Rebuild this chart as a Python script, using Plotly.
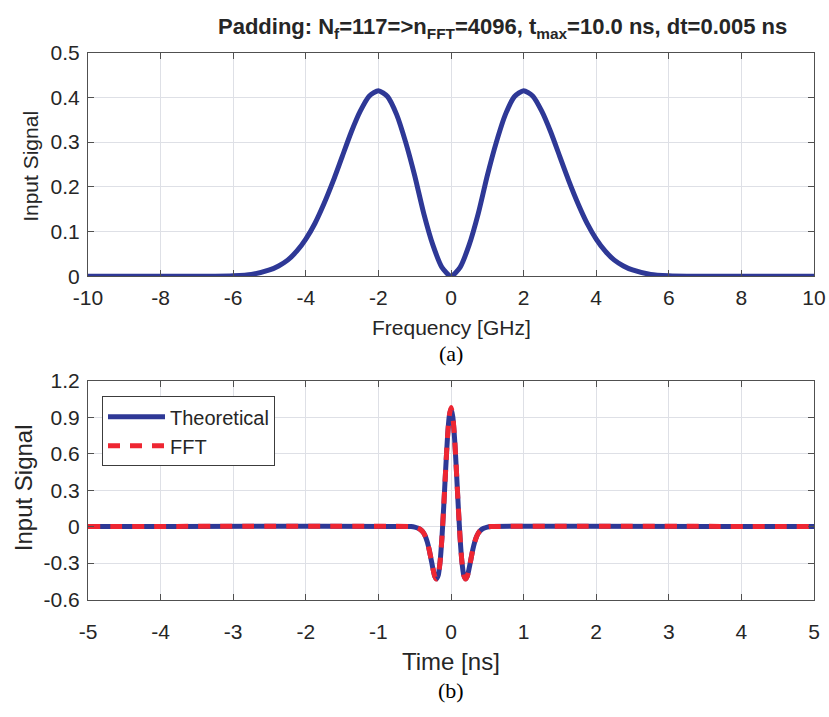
import plotly.graph_objects as go

# ---------------- data ----------------
# (a) spectrum magnitude vs frequency [GHz]
freq_pos = [0, 0.25, 0.5, 0.75, 1.0, 1.25, 1.5, 1.75, 2.0, 2.25, 2.5, 2.75, 3.0,
            3.25, 3.5, 3.75, 4.0, 4.25, 4.5, 4.75, 5.0, 5.5, 6.0, 6.5, 10.0]
spec_pos = [0.0, 0.02, 0.07, 0.14, 0.225, 0.30, 0.362, 0.402, 0.415, 0.403, 0.369,
            0.322, 0.267, 0.212, 0.162, 0.118, 0.083, 0.056, 0.036, 0.023, 0.014,
            0.004, 0.001, 0.0, 0.0]
freq = [-f for f in freq_pos[::-1]] + freq_pos[1:]
spec = spec_pos[::-1] + spec_pos[1:]

# (b) time-domain pulse [ns]
time_pos = [0, 0.025, 0.05, 0.075, 0.1, 0.125, 0.15, 0.175, 0.2, 0.225, 0.25,
            0.275, 0.3, 0.325, 0.35, 0.375, 0.4, 0.45, 0.5, 0.55, 5.0]
theo_pos = [0.97, 0.903, 0.718, 0.454, 0.167, -0.093, -0.287, -0.399, -0.43, -0.406,
            -0.343, -0.266, -0.191, -0.13, -0.085, -0.055, -0.035, -0.014, -0.004, 0.0, 0.0]
fft_pos = [0.98, 0.908, 0.72, 0.455, 0.167, -0.093, -0.287, -0.399, -0.432, -0.407,
           -0.343, -0.266, -0.191, -0.13, -0.085, -0.055, -0.035, -0.014, -0.004, 0.0, 0.0]
time = [-t for t in time_pos[::-1]] + time_pos[1:]
theo = theo_pos[::-1] + theo_pos[1:]
fft = fft_pos[::-1] + fft_pos[1:]

xt_a = [-10, -8, -6, -4, -2, 0, 2, 4, 6, 8, 10]
xt_a_lbl = ["-10", "-8", "-6", "-4", "-2", "0", "2", "4", "6", "8", "10"]
yt_a = [0, 0.1, 0.2, 0.3, 0.4, 0.5]
yt_a_lbl = ["0", "0.1", "0.2", "0.3", "0.4", "0.5"]
xt_b = [-5, -4, -3, -2, -1, 0, 1, 2, 3, 4, 5]
xt_b_lbl = ["-5", "-4", "-3", "-2", "-1", "0", "1", "2", "3", "4", "5"]
yt_b = [-0.6, -0.3, 0, 0.3, 0.6, 0.9, 1.2]
yt_b_lbl = ["-0.6", "-0.3", "0", "0.3", "0.6", "0.9", "1.2"]

BLUE = "rgb(46,56,150)"
RED = "rgb(238,38,50)"
FONT = "Liberation Sans Narrow, Arial Narrow, Liberation Sans, Arial, sans-serif"
SERIF = "Liberation Serif, Times New Roman, serif"
TXT = "#262626"

W, H = 829, 717
L, R = 88, 15


def px(x):
    return (x - L) / (W - L - R)


def py(y):
    return (H - y) / H


fig = go.Figure()
fig.add_trace(go.Scatter(x=freq, y=spec, mode="lines",
                         line=dict(color=BLUE, width=5, shape="spline", smoothing=0.6),
                         showlegend=False, xaxis="x", yaxis="y"))
fig.add_trace(go.Scatter(x=time, y=theo, mode="lines", name="Theoretical",
                         line=dict(color=BLUE, width=5, shape="spline", smoothing=0.6),
                         xaxis="x2", yaxis="y2"))
fig.add_trace(go.Scatter(x=time, y=fft, mode="lines", name="FFT",
                         line=dict(color=RED, width=5, dash="12px,10px", shape="spline", smoothing=0.6),
                         xaxis="x2", yaxis="y2"))

axis_common = dict(showgrid=True, gridcolor="rgb(222,224,230)", gridwidth=1, zeroline=False,
                   showline=True, linecolor="rgb(80,80,80)", linewidth=1, mirror="ticks",
                   ticks="inside", ticklen=6, tickcolor="rgb(80,80,80)")
tickf = dict(size=21, family=FONT, color=TXT)

fig.update_layout(
    width=W, height=H, paper_bgcolor="white", plot_bgcolor="white",
    margin=dict(l=L, r=R, t=0, b=0),
    font=dict(family=FONT, color=TXT),
    xaxis=dict(domain=[0, 1], range=[-10, 10], tickvals=xt_a, ticktext=xt_a_lbl, anchor="y",
               tickfont=tickf, ticklabelstandoff=3, **axis_common),
    yaxis=dict(domain=[py(273), py(42)], range=[0, 0.5], tickvals=yt_a, ticktext=yt_a_lbl, anchor="x",
               tickfont=tickf, ticklabelstandoff=3, **axis_common),
    xaxis2=dict(domain=[0, 1], range=[-5, 5], tickvals=xt_b, ticktext=xt_b_lbl, anchor="y2",
                tickfont=tickf, ticklabelstandoff=13, **axis_common),
    yaxis2=dict(domain=[py(607), py(381)], range=[-0.6, 1.2], tickvals=yt_b, ticktext=yt_b_lbl, anchor="x2",
                tickfont=tickf, ticklabelstandoff=3, **axis_common),
    legend=dict(x=px(102), y=py(397), xanchor="left", yanchor="top", bgcolor="white",
                bordercolor="rgb(60,60,60)", borderwidth=1, itemwidth=57,
                font=dict(size=20, family=FONT, color=TXT), tracegroupgap=0),
    annotations=[
        dict(text="<b>Padding: N<sub>f</sub>=117=>n<sub>FFT</sub>=4096, t<sub>max</sub>=10.0 ns, dt=0.005 ns</b>",
             x=px(502), y=py(17), font=dict(size=22, family=FONT, color=TXT)),
        dict(text="Input Signal", x=px(31), y=py(160), textangle=-90,
             font=dict(size=21, family=FONT, color=TXT)),
        dict(text="Frequency [GHz]", x=px(451), y=py(326),
             font=dict(size=21, family=FONT, color=TXT)),
        dict(text="(a)", x=px(451), y=py(353),
             font=dict(size=22, family=SERIF, color="black")),
        dict(text="Input Signal", x=px(23), y=py(492), textangle=-90,
             font=dict(size=24, family=FONT, color=TXT)),
        dict(text="Time [ns]", x=px(451), y=py(671),
             font=dict(size=24, family=FONT, color=TXT)),
        dict(text="(b)", x=px(451), y=py(701),
             font=dict(size=22, family=SERIF, color="black")),
    ],
)
for a in fig.layout.annotations:
    a.update(xref="paper", yref="paper", showarrow=False, xanchor="center", yanchor="middle")

fig.write_html("out.html")
